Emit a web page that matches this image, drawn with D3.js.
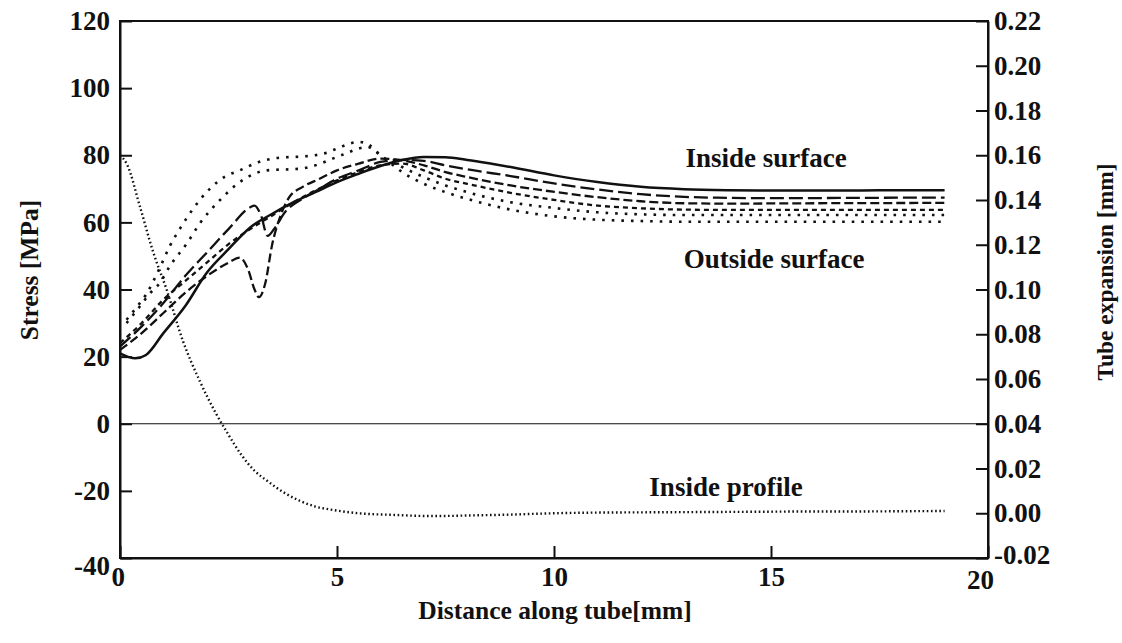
<!DOCTYPE html>
<html>
<head>
<meta charset="utf-8">
<script src="https://cdn.jsdelivr.net/npm/d3@7"></script>
<style>
  body { margin: 0; background: #fff; }
  text { font-family: "Liberation Serif", "Times New Roman", serif; font-weight: bold; fill: #111; }
</style>
</head>
<body>
<div class="chart"></div>
<script>
// ---- data ----
// stress curves (MPa) against distance along tube (mm)
var solidX = [0, 0.35, 0.6, 1, 1.5, 2, 2.5, 3, 3.5, 4, 4.5, 5, 5.5, 6, 6.5, 7, 7.5, 8, 8.5, 9, 10, 11, 12, 13, 14, 15, 16, 17, 18, 19];
var solidY = [21, 19.5, 20.5, 27, 35, 45, 52, 58.5, 62.5, 66, 69, 72, 74.5, 76.8, 78.6, 79.5, 79.4, 78.6, 77.6, 76.5, 74, 72, 70.6, 69.9, 69.6, 69.5, 69.5, 69.5, 69.6, 69.6];

var longDashX = [0, 0.5, 1, 1.5, 2, 2.5, 3, 3.1, 3.25, 3.4, 3.55, 3.8, 4.2, 4.6, 5, 5.5, 6, 6.5, 7, 7.5, 8, 9, 10, 11, 12, 13, 14, 15, 17, 19];
var longDashY = [23, 29, 36, 44, 51, 58, 64.5, 65, 62, 56, 58, 63, 67, 70, 73, 75.5, 78, 78.6, 78.3, 77, 75.8, 73.8, 71.6, 69.8, 68.4, 67.6, 67.3, 67.2, 67.3, 67.4];

var medDashX = [0, 0.5, 1, 1.5, 2, 2.5, 2.76, 2.95, 3.1, 3.2, 3.35, 3.5, 3.7, 3.9, 4.2, 4.6, 5, 5.5, 6, 6.5, 7, 7.5, 8, 9, 10, 11, 12, 13, 14, 16, 19];
var medDashY = [22, 27, 33, 39, 44, 48, 49.5, 46, 40, 37.7, 42, 53, 62, 67.5, 70.5, 73, 75.5, 77.5, 79, 78.5, 77, 75, 73.5, 71, 69.1, 67.5, 66.3, 65.7, 65.6, 65.7, 65.8];

var shortDashX = [0, 0.5, 1, 1.5, 2, 2.5, 3, 3.5, 4, 4.5, 5, 5.5, 6, 6.5, 7, 7.5, 8, 9, 10, 11, 12, 13, 14, 16, 19];
var shortDashY = [24, 30, 37, 42.5, 48, 53.5, 58, 62, 66, 69.5, 72.5, 75, 77, 77.5, 75.5, 73, 71.5, 68.8, 66.7, 65, 64.2, 63.8, 63.7, 63.7, 63.7];

var dotUpperX = [0.15, 0.4, 0.6, 0.9, 1.15, 1.4, 1.6, 2.07, 2.4, 2.76, 3.2, 3.7, 4.15, 4.5, 4.77, 5, 5.3, 5.5, 5.75, 6, 6.5, 7, 7.5, 8, 9, 10, 11, 12, 13, 14, 16, 19];
var dotUpperY = [31, 35, 38.5, 46, 53, 58.5, 62.5, 70, 73.5, 75.5, 78, 79.3, 79.6, 80, 80.8, 82, 83.5, 84, 83, 80, 76.5, 73.5, 71, 69, 66, 64.3, 63, 62.4, 62.2, 62.2, 62.2, 62.2];

var dotLowerX = [0.15, 0.4, 0.7, 0.92, 1.15, 1.54, 1.84, 2.3, 2.76, 3.39, 4.15, 4.5, 4.9, 5.2, 5.5, 5.7, 5.9, 6.2, 6.5, 7, 7.5, 8, 9, 10, 11, 12, 13, 14, 16, 19];
var dotLowerY = [30, 34, 39, 42, 47, 53.7, 59.7, 66.6, 72, 75.5, 76, 77, 79, 80.5, 82, 82.5, 81, 78, 75, 71.5, 69, 67, 63.8, 61.8, 60.8, 60.4, 60.2, 60.2, 60.2, 60.2];

// inside profile, tube expansion (mm) on the right axis
var profileX = [0, 0.16, 0.46, 0.76, 1.08, 1.45, 1.84, 2.2, 2.47, 2.8, 3.1, 3.39, 3.8, 4.15, 4.5, 4.9, 5.5, 6.4, 7, 7.5, 8, 9, 10, 11, 12, 13, 14, 15, 16, 17, 18, 19];
var profileY = [0.16, 0.156, 0.137, 0.117, 0.0996, 0.077, 0.059, 0.045, 0.036, 0.026, 0.019, 0.0145, 0.009, 0.0055, 0.003, 0.0015, 0.0, -0.0008, -0.0012, -0.0012, -0.001, -0.0006, 0.0, 0.0003, 0.0004, 0.0005, 0.0006, 0.0007, 0.0008, 0.0008, 0.0009, 0.001];

var xTicks = [0, 5, 10, 15, 20];
var stressTicks = [-40, -20, 0, 20, 40, 60, 80, 100, 120];
var expTicks = [-0.02, 0, 0.02, 0.04, 0.06, 0.08, 0.10, 0.12, 0.14, 0.16, 0.18, 0.20, 0.22];

var svgWidth = 1122;
var svgHeight = 643;

var margin = { top: 21, bottom: 85, right: 134, left: 120 };
var width = svgWidth - margin.left - margin.right;
var height = svgHeight - margin.top - margin.bottom;

var svg = d3.select(".chart")
  .append("svg")
  .attr("width", svgWidth)
  .attr("height", svgHeight);

var chartGroup = svg.append("g")
  .attr("transform", `translate(${margin.left}, ${margin.top})`);

// scales
var xScale = d3.scaleLinear().domain([0, 20]).range([0, width]);
var stressScale = d3.scaleLinear().domain([-40, 120]).range([height, 0]);
var expScale = d3.scaleLinear().domain([-0.02, 0.22]).range([height, 0]);

// plain hyphen for negatives, like the original
var hyphen = f => (d => f(d).replace("\u2212", "-"));

// frame
chartGroup.append("rect")
  .attr("width", width)
  .attr("height", height)
  .attr("fill", "none")
  .attr("stroke", "#111")
  .attr("stroke-width", 2);

// zero line
chartGroup.append("line")
  .attr("x1", 0).attr("x2", width)
  .attr("y1", stressScale(0)).attr("y2", stressScale(0))
  .attr("stroke", "#111")
  .attr("stroke-width", 1.2);

// axes, ticks point inward
var xAxis = d3.axisBottom(xScale).tickValues(xTicks).tickSize(-12).tickSizeOuter(0).tickPadding(9).tickFormat(d3.format("d"));
var yAxis = d3.axisLeft(stressScale).tickValues(stressTicks).tickSize(-12).tickSizeOuter(0).tickPadding(10).tickFormat(hyphen(d3.format("d")));
var y2Axis = d3.axisRight(expScale).tickValues(expTicks).tickSize(-12).tickSizeOuter(0).tickPadding(6).tickFormat(hyphen(d3.format(".2f")));

var gx = chartGroup.append("g")
  .attr("transform", `translate(0, ${height})`)
  .call(xAxis);
var gy = chartGroup.append("g").call(yAxis);
var gy2 = chartGroup.append("g")
  .attr("transform", `translate(${width}, 0)`)
  .call(y2Axis);

[gx, gy, gy2].forEach(function(g) {
  g.select(".domain").attr("stroke", "#111").attr("stroke-width", 2);
  g.selectAll(".tick line").attr("stroke", "#111").attr("stroke-width", 2);
  g.selectAll(".tick text")
    .attr("fill", "#111")
    .style("font-family", "'Liberation Serif', serif")
    .style("font-weight", "bold")
    .style("font-size", "27px");
});

// corner labels nudged apart, like the original
gy.selectAll(".tick text").filter(d => d === -40).attr("dy", "0.62em");
gx.selectAll(".tick text").filter(d => d === 0).attr("dx", "-0.08em");
gx.selectAll(".tick text").filter(d => d === 20).attr("dx", "-0.3em").attr("dy", "0.82em");
gy2.selectAll(".tick text").filter(d => d === -0.02).attr("dy", "0.2em");

// line generators
var stressLine = d3.line()
  .x(d => xScale(d[0]))
  .y(d => stressScale(d[1]))
  .curve(d3.curveMonotoneX);

var expLine = d3.line()
  .x(d => xScale(d[0]))
  .y(d => expScale(d[1]))
  .curve(d3.curveMonotoneX);

function pairs(xs, ys) {
  return xs.map((x, i) => [x, ys[i]]);
}

var curves = [
  { data: pairs(dotLowerX, dotLowerY), dash: "2.6,7", w: 2.6 },
  { data: pairs(dotUpperX, dotUpperY), dash: "2.6,7", w: 2.6 },
  { data: pairs(shortDashX, shortDashY), dash: "5,4", w: 2.3 },
  { data: pairs(medDashX, medDashY), dash: "9,4", w: 2.3 },
  { data: pairs(longDashX, longDashY), dash: "14,5", w: 2.3 },
  { data: pairs(solidX, solidY), dash: null, w: 2.5 }
];

curves.forEach(function(c) {
  chartGroup.append("path")
    .attr("d", stressLine(c.data))
    .attr("fill", "none")
    .attr("stroke", "#111")
    .attr("stroke-width", c.w)
    .attr("stroke-dasharray", c.dash);
});

chartGroup.append("path")
  .attr("d", expLine(pairs(profileX, profileY)))
  .attr("fill", "none")
  .attr("stroke", "#111")
  .attr("stroke-width", 2.4)
  .attr("stroke-dasharray", "1.6,2.6");

// curve labels
svg.append("text").attr("x", 766).attr("y", 167).attr("text-anchor", "middle")
  .style("font-size", "27px").text("Inside surface");
svg.append("text").attr("x", 774).attr("y", 268).attr("text-anchor", "middle")
  .style("font-size", "27px").text("Outside surface");
svg.append("text").attr("x", 726).attr("y", 496).attr("text-anchor", "middle")
  .style("font-size", "27px").text("Inside profile");

// axis titles
svg.append("text")
  .attr("x", 555).attr("y", 619)
  .attr("text-anchor", "middle")
  .style("font-size", "25.5px")
  .text("Distance along tube[mm]");

svg.append("text")
  .attr("transform", "translate(38, 270) rotate(-90)")
  .attr("text-anchor", "middle")
  .style("font-size", "25.5px")
  .text("Stress [MPa]");

svg.append("text")
  .attr("transform", "translate(1113, 272) rotate(-90)")
  .attr("text-anchor", "middle")
  .style("font-size", "23.5px")
  .text("Tube expansion [mm]");
</script>
</body>
</html>
